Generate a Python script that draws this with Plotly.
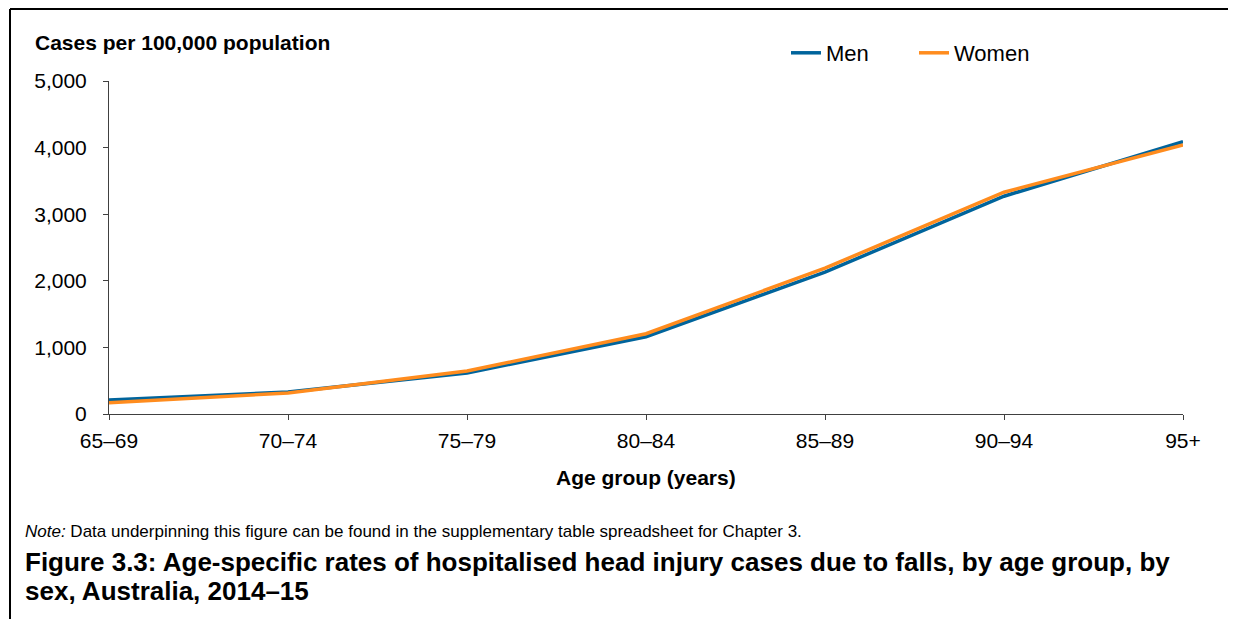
"""
Age-specific rates of hospitalised head injury cases due to falls (AIHW style line chart).
"""

import plotly.graph_objects as go

# ── Data ──────────────────────────────────────────────────
AGE_GROUPS = ["65–69", "70–74", "75–79", "80–84", "85–89", "90–94", "95+"]
MEN = [210, 330, 615, 1160, 2130, 3270, 4090]
WOMEN = [170, 315, 645, 1205, 2190, 3330, 4040]
Y_TICKS = [0, 1000, 2000, 3000, 4000, 5000]

# ── Theme ─────────────────────────────────────────────────
COLORS = {
    "men": "#00649C",
    "women": "#FF8C1E",
    "axis": "#404040",
    "text": "#000000",
}
FONT = "Liberation Sans, Arial, sans-serif"

W, H = 1236, 619
OFF = 8  # page body margin, screen px -> figure px
M = dict(l=101, r=61, t=73, b=213)
PW = W - M["l"] - M["r"]
PH = H - M["t"] - M["b"]


def px_x(x):
    # screen x -> paper fraction
    return (x - OFF - M["l"]) / PW


def px_y(y):
    # screen y -> paper fraction
    return (H - M["b"] - (y - OFF)) / PH


fig = go.Figure()
fig.add_trace(go.Scatter(
    x=AGE_GROUPS, y=MEN, mode="lines", name="Men",
    line=dict(color=COLORS["men"], width=3.5),
))
fig.add_trace(go.Scatter(
    x=AGE_GROUPS, y=WOMEN, mode="lines", name="Women",
    line=dict(color=COLORS["women"], width=3.5),
))

axis_common = dict(
    showline=True, linecolor=COLORS["axis"], linewidth=1,
    ticks="outside", ticklen=5, tickwidth=1, tickcolor=COLORS["axis"],
    showgrid=False, zeroline=False,
    tickfont=dict(family=FONT, size=21, color=COLORS["text"]),
)

fig.update_layout(
    width=W, height=H,
    margin=M,
    paper_bgcolor="white", plot_bgcolor="white",
    font=dict(family=FONT, color=COLORS["text"]),
    xaxis=dict(**axis_common, type="category", range=[0, len(AGE_GROUPS) - 1],
               ticklabelstandoff=3),
    yaxis=dict(**axis_common, range=[0, 5000], tickvals=Y_TICKS, tickformat=",d",
               ticklabelstandoff=12),
    showlegend=True,
    legend=dict(
        orientation="h", x=px_x(786), y=px_y(53), xanchor="left", yanchor="middle",
        font=dict(family=FONT, size=22, color=COLORS["text"]),
        bgcolor="rgba(0,0,0,0)", entrywidth=83, itemwidth=30,
    ),
    annotations=[
        dict(text="<b>Cases per 100,000 population</b>", x=px_x(33), y=px_y(43),
             xref="paper", yref="paper", xanchor="left", yanchor="middle",
             showarrow=False, font=dict(family=FONT, size=21)),
        dict(text="<b>Age group (years)</b>", x=px_x(646), y=px_y(477),
             xref="paper", yref="paper", xanchor="center", yanchor="middle",
             showarrow=False, font=dict(family=FONT, size=21)),
        dict(text="<i>Note:</i> Data underpinning this figure can be found in the "
                  "supplementary table spreadsheet for Chapter 3.",
             x=px_x(23), y=px_y(531),
             xref="paper", yref="paper", xanchor="left", yanchor="middle",
             showarrow=False, font=dict(family=FONT, size=17)),
        dict(text="<b>Figure 3.3: Age-specific rates of hospitalised head injury cases "
                  "due to falls, by age group, by</b>",
             x=px_x(23), y=px_y(562),
             xref="paper", yref="paper", xanchor="left", yanchor="middle",
             showarrow=False, font=dict(family=FONT, size=26)),
        dict(text="<b>sex, Australia, 2014–15</b>",
             x=px_x(23), y=px_y(591),
             xref="paper", yref="paper", xanchor="left", yanchor="middle",
             showarrow=False, font=dict(family=FONT, size=26)),
    ],
    shapes=[
        dict(type="line", xref="paper", yref="paper",
             x0=px_x(10), x1=px_x(W + 20), y0=px_y(9), y1=px_y(9),
             line=dict(color="black", width=2)),
        dict(type="line", xref="paper", yref="paper",
             x0=px_x(10), x1=px_x(10), y0=px_y(9), y1=px_y(H + 20),
             line=dict(color="black", width=2)),
    ],
)

fig.write_html("out.html")
